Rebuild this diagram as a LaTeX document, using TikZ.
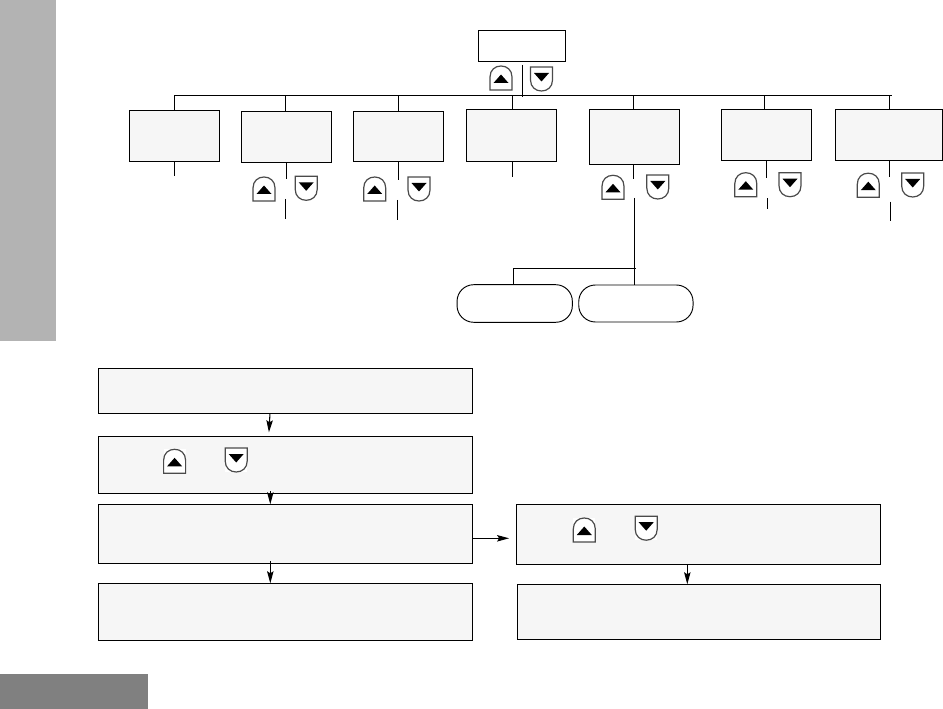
\documentclass[tikz,border=0pt]{standalone}
\usetikzlibrary{arrows.meta}
\definecolor{tabgray}{HTML}{B3B3B3}
\definecolor{pagegray}{HTML}{808080}
\definecolor{boxgray}{HTML}{F6F6F6}
\definecolor{keygray}{HTML}{4A4A4A}
\tikzset{
 wh/.style 2 args={minimum width=#1*0.75pt,minimum height=#2*0.75pt},
 whitebox/.style={draw,line width=0.8pt,fill=white,inner sep=0pt,outer sep=0pt},
 menubox/.style={whitebox,fill=boxgray},
 pillbox/.style={whitebox,line width=0.7pt,rounded corners=12.5pt},
 wire/.style={line width=0.8pt},
 flow/.style={wire,-{Stealth[length=9pt,width=4.8pt,inset=1.5pt]}},
 upkey/.pic={
  \fill[white] (-11,-12) rectangle (11,12);
  \draw[keygray,line width=0.9pt] (-11,12)--(-11,-1) .. controls (-11,-8) and (-6,-12) .. (0,-12) .. controls (6,-12) and (11,-8) .. (11,-1)--(11,12)--cycle;
  \fill (-7.5,5)--(7.5,5)--(0,-3.5)--cycle;
 },
 downkey/.pic={
  \fill[white] (-11,-12) rectangle (11,12);
  \draw[keygray,line width=0.9pt] (-11,-12)--(-11,1) .. controls (-11,8) and (-6,12) .. (0,12) .. controls (6,12) and (11,8) .. (11,1)--(11,-12)--cycle;
  \fill (-7.5,-6)--(7.5,-6)--(0,2.5)--cycle;
 },
}
\begin{document}
\begin{tikzpicture}[x=0.75pt,y=-0.75pt]
 \useasboundingbox (0,0) rectangle (943,709);
 % page tab and page number block
 \fill[tabgray] (0,0) rectangle (56,341);
 \fill[pagegray] (0,674) rectangle (148,709);
 % menu tree: bus and boxes
 \node[whitebox,wh={87}{31}] (root) at (522,46) {};
 \node[menubox,wh={90.4}{51}] (bone) at (174.5,135.8) {};
 \node[menubox,wh={90.4}{51}] (btwo) at (286.5,136.8) {};
 \node[menubox,wh={90.4}{50}] (bthree) at (398.5,136.3) {};
 \node[menubox,wh={90.4}{52.3}] (bfour) at (511.5,135.2) {};
 \node[menubox,wh={90.4}{55}] (bfive) at (634.5,136.8) {};
 \node[menubox,wh={90.4}{51}] (bsix) at (766.5,134.8) {};
 \node[menubox,wh={107}{51}] (bseven) at (888.8,134.8) {};
 \coordinate (busl) at (174.3,95.3); \coordinate (busr) at (891.7,95.3);
 \draw[wire] (busl)--(busr);
 \coordinate (keytop) at (522.5,65); \coordinate (keybot) at (522.5,96.7);
 \draw[wire] (keytop)--(keybot);
 \foreach \nm/\xx in {bone/174.3,btwo/285.3,bthree/398.3,bfour/512.3,bfive/633.3,bsix/764.3,bseven/889.7} {
  \coordinate (bus\nm) at (\xx,95.3);
  \draw[wire] (bus\nm)--(bus\nm |- \nm.north);
 }
 % stubs under the boxes
 \foreach \nm/\xx/\yy in {bone/174.3/175.7,btwo/286.3/178.7,bthree/398.3/179.7,bfour/512.3/176.7,bfive/633.3/178.7,bsix/766.7/177.7,bseven/889.7/176.7} {
  \coordinate (st\nm) at (\xx,\yy);
  \draw[wire] (\nm.south -| st\nm)--(st\nm);
 }
 % stubs under the keys
 \foreach \nm/\xx/\ya/\yb in {btwo/285.3/199/218.7,bthree/397.3/200/219.7,bsix/767.7/198.3/208.7,bseven/890.3/201.7/220.7} {
  \coordinate (lo\nm) at (\xx,\ya); \coordinate (en\nm) at (\xx,\yb);
  \draw[wire] (lo\nm)--(en\nm);
 }
 % branch to the two rounded boxes
 \node[pillbox,wh={115.3}{37.6}] (pone) at (514.7,303.5) {};
 \node[pillbox,wh={114.3}{37}] (ptwo) at (635.9,303.5) {};
 \coordinate (lofive) at (634.3,198);
 \draw[wire] (lofive)--(lofive |- ptwo.north);
 \coordinate (brr) at (635.7,268.3); \coordinate (brl) at (513.3,268.3);
 \draw[wire] (brr)--(brl)--(brl |- pone.north);
 % flow boxes
 \node[menubox,wh={374.4}{45}] (lone) at (285.5,390.8) {};
 \node[menubox,wh={374.4}{57}] (ltwo) at (285.5,464.8) {};
 \node[menubox,wh={374.4}{59}] (lthree) at (285.5,533.8) {};
 \node[menubox,wh={374.4}{57}] (lfour) at (285.5,611.8) {};
 \node[menubox,wh={364}{60}] (rone) at (698.3,534.3) {};
 \node[menubox,wh={363}{55}] (rtwo) at (698.8,611.8) {};
 % flow arrows
 \coordinate (fla) at (270,0); \coordinate (flb) at (268.7,0); \coordinate (flc) at (270.3,0);
 \coordinate (fld) at (687.3,0); \coordinate (fle) at (0,538.3);
 \draw[flow,shorten >=3pt] (fla |- lone.south)--(flb |- ltwo.north);
 \draw[flow,shorten <=-1.5pt] (flc |- ltwo.south)--(flc |- lthree.north);
 \draw[flow,shorten <=-1.5pt] (flc |- lthree.south)--(flc |- lfour.north);
 \draw[flow] (fld |- rone.south)--(fld |- rtwo.north);
 \draw[flow,shorten >=5.4pt] (fle -| lthree.east)--(fle -| rone.west);
 % keys
 \foreach \xx/\yy in {501/78,264/189,374.7/189,613/187.3,745.8/184.7,868.3/185.2,174.6/461.3,584.3/530}
  \pic at (\xx,\yy) {upkey};
 \foreach \xx/\yy in {541.5/79,306.2/188.3,419/189,657.8/187,790/184.7,912.7/185,236.2/460,646.2/528.2}
  \pic at (\xx,\yy) {downkey};
\end{tikzpicture}
\end{document}
